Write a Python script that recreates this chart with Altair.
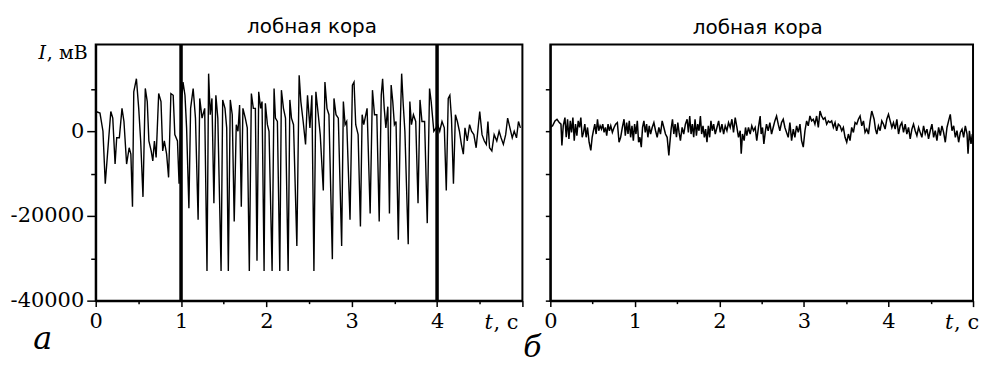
import altair as alt
import pandas as pd

# ---- panel "а": time (s) and amplitude (mV) ----
t_a = [0.01, 0.05, 0.085, 0.112, 0.15, 0.177, 0.2, 0.227, 0.246, 0.277, 0.308, 0.331, 0.362, 0.392, 0.412,
       0.431, 0.446, 0.477, 0.504, 0.527, 0.554, 0.581, 0.604, 0.623, 0.65, 0.669, 0.688, 0.708, 0.738, 0.765,
       0.785, 0.804, 0.831, 0.854, 0.881, 0.908, 0.927, 0.958, 0.977, 1.0, 1.023, 1.046, 1.065, 1.092, 1.112,
       1.142, 1.169, 1.2, 1.219, 1.246, 1.277, 1.304, 1.323, 1.342, 1.362, 1.385, 1.408, 1.431, 1.469, 1.488,
       1.515, 1.535, 1.554, 1.577, 1.6, 1.623,
       1.647, 1.667, 1.686, 1.706, 1.725, 1.753, 1.776, 1.8, 1.824, 1.847, 1.871, 1.89, 1.91, 1.933, 1.949,
       1.973, 1.988, 2.012, 2.031, 2.067, 2.09, 2.106, 2.129, 2.157, 2.176, 2.2, 2.224, 2.255, 2.275, 2.294,
       2.318, 2.357, 2.384, 2.404, 2.431, 2.459, 2.482, 2.51, 2.533, 2.557, 2.58, 2.608, 2.631, 2.667, 2.686,
       2.71, 2.733, 2.773, 2.792, 2.816, 2.843, 2.882, 2.902, 2.922, 2.941, 2.98, 3.008, 3.027, 3.047, 3.075,
       3.102, 3.122, 3.141, 3.18, 3.216, 3.243, 3.267, 3.294, 3.322,
       3.346, 3.362, 3.381, 3.4, 3.423, 3.442, 3.462, 3.481, 3.5, 3.519, 3.546, 3.569, 3.585, 3.604, 3.623,
       3.662, 3.681, 3.7, 3.723, 3.75, 3.777, 3.8, 3.823, 3.854, 3.885, 3.912, 3.931, 3.962, 3.988, 4.008,
       4.031, 4.058, 4.085, 4.108, 4.131, 4.15, 4.169, 4.192, 4.215, 4.238, 4.262, 4.285, 4.308, 4.327, 4.354,
       4.381, 4.404, 4.431, 4.458, 4.481, 4.5, 4.527, 4.554, 4.577, 4.596, 4.615, 4.642, 4.669, 4.7, 4.727,
       4.75, 4.777, 4.804, 4.827, 4.854, 4.881, 4.904, 4.931, 4.954, 4.977]
v_a = [4600, 4300, 0, -12400, -2300, 4650, 3100, -7750, -1550, -1550, 5400, 2300, -7750, -3900, -5400,
       -17800, 9300, 12400, 5400, -2300, -15500, 10100, 7000, -2300, -4650, -7000, -2300, -6200, 8900, 7000,
       -4650, -2300, -5400, -10900, 8900, 8500, -800, -2300, -12400, 5400, 11600, 8500, 800, -18200, 5400,
       10100, 3100, -20900, 7750, 3100, 5400, -33000, 13600, 3900, 7750, -17000, 8500, 3100, -33000, 7400,
       5400, 800, -33000, 7400, 3900, -21300,
       1550, 0, 6200, -17800, 5400, 3100, 800, -33000, 8900, 5400, 5400, -30600, 9300, 5400, 7000,
       -33000, 6600, 1550, 0, -33000, 10100, 3100, 2300, -33000, 9700, 5400, 3100, -33000, 7400, 3100,
       1550, -27100, 13200, 7000, 2300, -3100, 8500, 800, 8500, -33000, 9300, 3900, -800, -14000, 11600,
       5400, 3900, -30200, 7750, 3900, 3100, -27100, 7000, 1550, 2300, -20900, 10900, 11600, 1550, -800,
       -22500, 3900, 1550, 5400, -19400, 9700, 3900, 3900, -21300,
       8500, 12400, 5400, 800, 5800, -19400, 10900, 7000, 1550, 2300, -25600, 1550, 13600, 6200, 0,
       -26700, 7000, 1550, 3900, 2300, -17000, 7400, 2300, 2300, -21700, 10100, 7000, 0, 800, 1550,
       0, 2300, 800, -14000, 7750, 8500, 3100, -12400, 3900, 2300, 0, -3100, -5400, 800, -2300,
       1550, 0, -800, -3900, 800, 4650, -800, -2300, -3100, 2300, -3900, -4650, -800, -2300, 0,
       -1550, -3100, -800, 3100, 800, -1550, 0, -1550, 2300, 800]

# ---- panel "б" ----
t_b = [0.0, 0.027, 0.055, 0.079, 0.106, 0.126, 0.137, 0.153, 0.173, 0.188, 0.204, 0.22, 0.236, 0.251, 0.267,
       0.283, 0.298, 0.314, 0.33, 0.346, 0.361, 0.377, 0.393, 0.408, 0.424, 0.44, 0.459, 0.479, 0.495, 0.51,
       0.526, 0.542, 0.558, 0.573, 0.589, 0.605, 0.62, 0.636, 0.652, 0.667, 0.683, 0.699, 0.715, 0.734, 0.754,
       0.773, 0.793, 0.813, 0.832, 0.852, 0.872, 0.887, 0.903, 0.919, 0.934, 0.95, 0.966, 0.982, 0.997, 1.013,
       1.029, 1.044, 1.06, 1.076, 1.091, 1.107, 1.123, 1.139, 1.154, 1.17, 1.186, 1.205, 1.225, 1.245, 1.264,
       1.284, 1.303, 1.323, 1.343, 1.362, 1.382, 1.402, 1.413, 1.429, 1.445, 1.461, 1.476, 1.492, 1.508, 1.523,
       1.539, 1.559, 1.578, 1.598, 1.618, 1.633, 1.649, 1.665, 1.68, 1.696, 1.712, 1.728, 1.743, 1.759, 1.775,
       1.79, 1.806, 1.822, 1.837, 1.853, 1.869, 1.885, 1.9, 1.916, 1.932, 1.951, 1.971, 1.991, 2.01, 2.03,
       2.05, 2.069, 2.089, 2.108, 2.128, 2.148, 2.167, 2.187, 2.207, 2.226, 2.246, 2.258, 2.273, 2.293, 2.309,
       2.324, 2.344, 2.364, 2.383, 2.403, 2.423, 2.442, 2.462, 2.482,
       2.494, 2.51, 2.526, 2.542, 2.557, 2.577, 2.597, 2.617, 2.636, 2.656, 2.676, 2.696, 2.715, 2.735, 2.755,
       2.775, 2.794, 2.814, 2.834, 2.854, 2.874, 2.893, 2.913, 2.933, 2.953, 2.972, 2.992, 3.012, 3.032, 3.051,
       3.071, 3.091, 3.111, 3.13, 3.15, 3.17, 3.19, 3.209, 3.229, 3.249, 3.269, 3.289, 3.308, 3.328, 3.348,
       3.368, 3.387, 3.407, 3.427, 3.447, 3.466, 3.486, 3.506, 3.526, 3.545, 3.565, 3.585, 3.605, 3.625, 3.644,
       3.664, 3.684, 3.704, 3.723, 3.743, 3.763, 3.783, 3.802, 3.814, 3.83, 3.846, 3.862, 3.881, 3.901, 3.921,
       3.941, 3.96, 3.98, 4.0, 4.02, 4.04, 4.059, 4.079, 4.099, 4.119, 4.138, 4.158, 4.178, 4.198, 4.217,
       4.237, 4.257, 4.277, 4.296, 4.316, 4.336, 4.356, 4.375, 4.395, 4.415, 4.435, 4.455, 4.474, 4.494, 4.514,
       4.534, 4.553, 4.573, 4.593, 4.613, 4.632, 4.652, 4.672, 4.692, 4.711, 4.731, 4.751, 4.771, 4.791, 4.81,
       4.83, 4.85, 4.87, 4.889, 4.909, 4.929, 4.941, 4.957, 4.976, 4.992]
v_b = [890, 1280, 2440, 2830, 2050, 1670, -3370, 1280, 3220, -1430, 2830, -1820, 2440, -270, 3220,
       -2210, 1670, -1050, 2440, 890, 3220, -1430, -270, 1670, -1430, 890, -2600, -4530, -1430, 120,
       1670, -660, 2830, 120, 1280, 500, 1670, -270, 890, -1050, 1670, 120, 1280, -270, 890,
       1670, 2050, -2600, -1430, 890, 2830, -1050, 2050, -660, 2440, -1430, 1280, -2210, 1670, -660,
       2440, -2600, -1430, -3760, 890, 2440, -270, 1670, -1430, 1280, -660, 890, 2050, 120, -1430,
       890, -660, 2440, 890, -660, -1430, -5700, -2980, 500, 2830, -660, 1670, -1430, 2050, -270,
       -2210, 890, -660, 1670, 2830, -270, 3600, -660, 1670, -1430, 2830, -1050, 1670, 120, 3600,
       -660, 1280, -1430, 500, -2600, 1280, -1430, 2440, 120, 1670, -660, 890, 2440, -270, 1670,
       -660, 1280, 120, 2050, 890, 2830, -270, 3220, 890, -1430, 120, -5310, -660, -2210, 890,
       -1050, 890, -660, 1280, 120, 890, -2210, 890, 3600,
       -660, 890, -2980, -270, 1670, 120, 2050, -660, 890, 2440, 3600, 1670, 120, 2050, 2830,
       890, -270, -1430, 2050, -2210, 500, -1430, 1280, -270, 1670, -2210, -3760, 120, 2440, 1280,
       3600, 2440, 2830, 1670, 3600, 890, 4770, 3600, 2830, 3220, 1670, 2440, 2050, 2440, 890,
       2050, 120, 1670, 1280, 120, 890, -1430, -2600, -660, -2210, 890, -270, 2050, 1670, 2830,
       3600, 1280, 2440, -270, 500, -660, 2440, 4770, 3990, 2830, 500, -660, 1280, 120, 2440,
       1670, 500, 2830, 3990, 2440, 890, 2050, 500, 2830, -660, 1280, 2050, -270, 1670, -660,
       890, -1820, 500, 1670, 120, -1050, 890, -270, -1430, 1280, -660, 500, -1820, 120, 1670,
       -1430, 120, -2210, 890, -1050, 1280, -270, -2600, 890, 2440, 3990, 120, 1280, -1430, 120,
       -2600, -270, 500, -1430, 1280, -660, -5310, 120, -2980, -660]

markers_a = [1, 4]
x_domain = [0, 5]
y_domain = [-40000, 20500]
x_ticks = [0, 0.5, 1, 1.5, 2, 2.5, 3, 3.5, 4, 4.5, 5]
y_ticks = [-40000, -30000, -20000, -10000, 0, 10000]
panel_title = "лобная кора"
y_name, y_unit = "I", ", мВ"
x_name, x_unit = "t", ", с"
panel_letters = ["а", "б"]

W_A, W_B, H = 428, 424, 257
SERIF = "DejaVu Serif"
SANS = "DejaVu Sans"

df_a = pd.DataFrame({"t": t_a, "v": v_a})
df_b = pd.DataFrame({"t": t_b, "v": v_b})
df_m = pd.DataFrame({"t": markers_a})


def x_axis():
    return alt.Axis(values=x_ticks, title=None, grid=False,
                    labelExpr="(datum.value % 1 === 0 && datum.value < 5) ? datum.value + '' : ''",
                    labelFont=SERIF, labelFontSize=21, labelColor="black", labelPadding=4,
                    labelBaseline="top", labelFlush=False, labelOverlap=False,
                    tickSize={"condition": {"test": "datum.value % 1 === 0", "value": 6}, "value": 3},
                    tickColor="black", tickWidth=1.5, domainColor="black", domainWidth=2)


def y_axis(labels):
    if labels:
        return alt.Axis(values=y_ticks, title=None, grid=False,
                        labelExpr="datum.value % 20000 === 0 ? datum.value + '' : ''",
                        labelFont=SERIF, labelFontSize=21, labelColor="black", labelPadding=3,
                        labelOverlap=False,
                        tickSize={"condition": {"test": "datum.value % 20000 === 0", "value": 9}, "value": 5},
                        tickColor="black", tickWidth=1.5, domainColor="black", domainWidth=2)
    return alt.Axis(values=y_ticks, title=None, grid=False, labels=False, tickSize=5,
                    tickColor="black", tickWidth=1.5, domainColor="black", domainWidth=2)


def txt(s, x, y, size, font, style="normal", align="left"):
    return alt.Chart(alt.Data(values=[{"s": s}])).mark_text(
        font=font, fontSize=size, fontStyle=style, align=align, baseline="alphabetic", color="black"
    ).encode(text="s:N", x=alt.value(x), y=alt.value(y))


xs = alt.Scale(domain=x_domain, nice=False, zero=False)
ys = alt.Scale(domain=y_domain, nice=False, zero=False)

line_a = alt.Chart(df_a).mark_line(color="black", strokeWidth=1.4).encode(
    x=alt.X("t:Q", scale=xs, axis=x_axis()),
    y=alt.Y("v:Q", scale=ys, axis=y_axis(True)),
)
rule_a = alt.Chart(df_m).mark_rule(color="black", strokeWidth=3.5).encode(x=alt.X("t:Q", scale=xs))
anchor = alt.Chart(alt.Data(values=[{}])).mark_rule(opacity=0).encode(
    x=alt.value(-95), x2=alt.value(-95), y=alt.value(-43), y2=alt.value(-42))

left = alt.layer(
    line_a, rule_a, anchor,
    txt(panel_title, 217, -11, 20, SANS, align="center"),
    txt(y_name, -50, 15, 19, SERIF, style="italic", align="right"),
    txt(y_unit, -49, 15, 19, SERIF),
    txt(x_name, 390, 285, 21, SERIF, style="italic"),
    txt(x_unit, 399, 285, 21, SERIF),
    txt(panel_letters[0], -53, 306, 32, SERIF, style="italic", align="center"),
).properties(width=W_A, height=H)

line_b = alt.Chart(df_b).mark_line(color="black", strokeWidth=1.5).encode(
    x=alt.X("t:Q", scale=xs, axis=x_axis()),
    y=alt.Y("v:Q", scale=ys, axis=y_axis(False)),
)

right = alt.layer(
    line_b,
    txt(panel_title, 208, -10, 20, SANS, align="center"),
    txt(x_name, 396, 285, 21, SERIF, style="italic"),
    txt(x_unit, 405, 285, 21, SERIF),
    txt(panel_letters[1], -18, 314, 30, SERIF, style="italic", align="center"),
).properties(width=W_B, height=H)

chart = alt.hconcat(left, right, spacing=28, bounds="flush").properties(
    padding=0
).configure_view(stroke="black", strokeWidth=2)

chart.save("out.html", embed_options={"renderer": "svg", "actions": False})
